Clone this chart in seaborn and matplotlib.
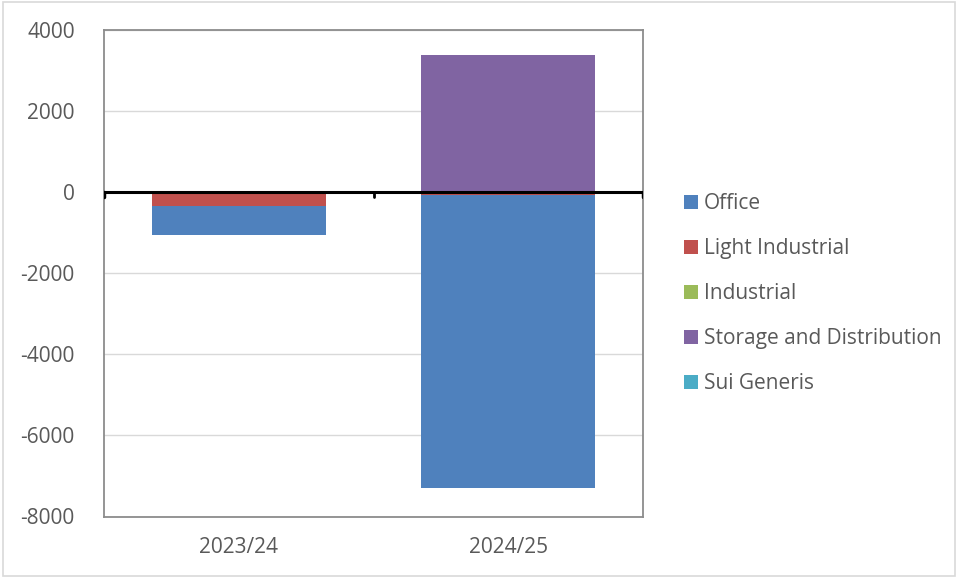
import matplotlib
matplotlib.use("Agg")
import matplotlib.pyplot as plt
import seaborn as sns
import pandas as pd
import numpy as np
from matplotlib.patches import Patch

categories = ["2023/24", "2024/25"]
series_names = ["Office", "Light Industrial", "Industrial", "Storage and Distribution", "Sui Generis"]
office = [-700, -7220]
light_industrial = [-360, -80]
industrial = [0, 0]
storage_distribution = [0, 3360]
sui_generis = [0, 0]
colors = ["#4F81BD", "#C0504D", "#9BBB59", "#8064A2", "#4BACC6"]
yticks = [-8000, -6000, -4000, -2000, 0, 2000, 4000]

sns.set_theme(style="white")
plt.rcParams['font.family'] = ['Open Sans', 'DejaVu Sans']

fig = plt.figure(figsize=(9.58, 5.78), dpi=100)
ax = fig.add_axes([104/958, 1-516.5/578, 539/958, (516.5-29.5)/578])

# stacking: Light Industrial next to zero, Office beneath for negatives
stack_order = [light_industrial, office, industrial, storage_distribution, sui_generis]
stack_colors = [colors[1], colors[0], colors[2], colors[3], colors[4]]
pos_base = np.zeros(len(categories))
neg_base = np.zeros(len(categories))
for vals, col in zip(stack_order, stack_colors):
    vals = np.array(vals, dtype=float)
    bottoms = np.where(vals >= 0, pos_base, neg_base)
    df = pd.DataFrame({"cat": categories, "val": vals})
    sns.barplot(data=df, x="cat", y="val", color=col, bottom=bottoms, width=0.646,
                ax=ax, saturation=1, linewidth=0, errorbar=None)
    pos_base = pos_base + np.where(vals > 0, vals, 0)
    neg_base = neg_base + np.where(vals < 0, vals, 0)

ax.set_xlim(-0.5, 1.5)
ax.set_ylim(-8000, 4000)
ax.set_yticks(yticks)
ax.set_yticklabels([str(t) for t in yticks])
ax.yaxis.grid(True, color="#D9D9D9", linewidth=1)
ax.set_axisbelow(True)
ax.axhline(0, color="black", linewidth=2.2, zorder=5)
# category boundary tick on zero line
ax.plot([0.5, 0.5], [0, -130], color="black", linewidth=2, zorder=5)
ax.plot([-0.5, -0.5], [0, -130], color="black", linewidth=2.5, zorder=5)
ax.plot([1.5, 1.5], [0, -130], color="black", linewidth=2.5, zorder=5)

for s in ax.spines.values():
    s.set_color("#8C8C8C")
    s.set_linewidth(1.3)
ax.set_xlabel("")
ax.set_ylabel("")
ax.tick_params(axis="both", length=0, labelsize=15, colors="#595959")
ax.tick_params(axis="y", pad=21)
ax.tick_params(axis="x", pad=15)

handles = [Patch(facecolor=c, edgecolor="none") for c in colors]
leg = fig.legend(handles, series_names, loc="upper left", bbox_to_anchor=(676/958, 1-185/578),
                 frameon=False, fontsize=15, handlelength=0.65, handleheight=0.65,
                 handletextpad=0.3, labelspacing=1.15, borderaxespad=0)
for t in leg.get_texts():
    t.set_color("#595959")

# outer chart border
fig.add_artist(plt.Rectangle((0.003, 0.003), 0.994, 0.994, transform=fig.transFigure,
                             fill=False, edgecolor="#D9D9D9", linewidth=1.2))

fig.savefig("out.png", dpi=100)
